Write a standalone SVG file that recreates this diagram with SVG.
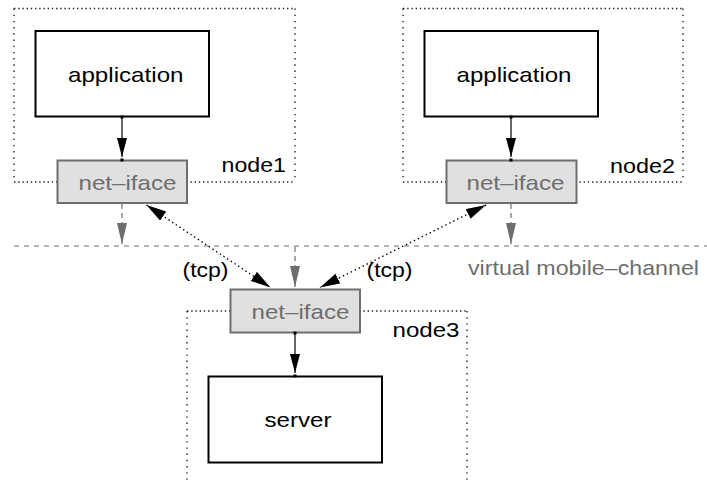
<svg xmlns="http://www.w3.org/2000/svg" width="707" height="483" viewBox="0 0 707 483">
  <style>
    text { font-family: "Liberation Sans", Arial, Helvetica, sans-serif; font-size: 21px; }
    .lbl { fill: #000; }
    .glbl { fill: #6e6e6e; }
    .box { fill: #fff; stroke: #000; stroke-width: 2; }
    .iface { fill: #e0e0e0; stroke: #6e6e6e; stroke-width: 2; }
    .hdot { fill: none; stroke: #222; stroke-width: 1.4; stroke-dasharray: 1.4 2.8; }
    .vdot { fill: none; stroke: #222; stroke-width: 1.4; stroke-dasharray: 1.4 4.8; }
    .flow { stroke: #000; stroke-width: 1.2; fill: none; }
    .gflow { stroke: #6e6e6e; stroke-width: 1.2; fill: none; stroke-dasharray: 5 4; }
    .tcp { stroke: #000; stroke-width: 1.4; fill: none; stroke-dasharray: 1.4 3; }
    .chan { stroke: #6e6e6e; stroke-width: 1.2; fill: none; stroke-dasharray: 5 5; }
  </style>
  <defs>
    <marker id="blk" markerUnits="userSpaceOnUse" markerWidth="20" markerHeight="11" refX="19" refY="5" orient="auto">
      <path d="M0,0 L19,5 L0,10 z" fill="#000"/>
    </marker>
    <marker id="gry" markerUnits="userSpaceOnUse" markerWidth="22" markerHeight="11" refX="21" refY="5" orient="auto">
      <path d="M0,0 L21,5 L0,10 z" fill="#6e6e6e"/>
    </marker>
    <marker id="tcpHead" markerUnits="userSpaceOnUse" markerWidth="21" markerHeight="12" refX="20" refY="5.5" orient="auto-start-reverse">
      <path d="M0,0 L20,5.5 L0,11 z" fill="#000"/>
    </marker>
  </defs>

  <!-- virtual mobile channel -->
  <g id="channel">
    <line class="chan" x1="14" y1="246" x2="707" y2="246"/>
    <text class="glbl" x="468" y="274.5" textLength="231" lengthAdjust="spacingAndGlyphs">virtual mobile–channel</text>
  </g>

  <!-- host containers -->
  <g id="node1">
    <path class="hdot" d="M14,8.5 H295 M14,182 H295"/>
    <path class="vdot" d="M14,8.5 V182 M295,8.5 V182"/>
    <text class="lbl" x="221.5" y="172" textLength="64.5" lengthAdjust="spacingAndGlyphs">node1</text>
  </g>
  <g id="node2">
    <path class="hdot" d="M403,8.5 H683 M403,182 H683"/>
    <path class="vdot" d="M403,8.5 V182 M683,8.5 V182"/>
    <text class="lbl" x="610" y="173" textLength="65" lengthAdjust="spacingAndGlyphs">node2</text>
  </g>
  <g id="node3">
    <path class="hdot" d="M187,311 H467"/>
    <path class="vdot" d="M187,311 V483 M467,311 V483"/>
    <text class="lbl" x="392.5" y="337" textLength="67" lengthAdjust="spacingAndGlyphs">node3</text>
  </g>

  <!-- components -->
  <g id="app1">
    <rect class="box" x="35.5" y="31" width="173.5" height="85.5"/>
    <text class="lbl" x="68" y="82" textLength="115.5" lengthAdjust="spacingAndGlyphs">application</text>
  </g>
  <g id="app2">
    <rect class="box" x="424.5" y="31" width="173.5" height="85.5"/>
    <text class="lbl" x="456.5" y="82" textLength="115" lengthAdjust="spacingAndGlyphs">application</text>
  </g>
  <g id="iface1">
    <rect class="iface" x="57.5" y="160.5" width="129.5" height="42.5"/>
    <text class="glbl" x="78.5" y="190" textLength="98" lengthAdjust="spacingAndGlyphs">net–iface</text>
  </g>
  <g id="iface2">
    <rect class="iface" x="446.5" y="160.5" width="130" height="42.5"/>
    <text class="glbl" x="466.5" y="190" textLength="98" lengthAdjust="spacingAndGlyphs">net–iface</text>
  </g>
  <g id="iface3">
    <rect class="iface" x="230.5" y="289.5" width="129.5" height="43"/>
    <text class="glbl" x="251.5" y="318.5" textLength="98" lengthAdjust="spacingAndGlyphs">net–iface</text>
  </g>
  <g id="server">
    <rect class="box" x="208.5" y="376.5" width="173.5" height="86"/>
    <text class="lbl" x="264.5" y="427" textLength="67" lengthAdjust="spacingAndGlyphs">server</text>
  </g>

  <!-- connectors -->
  <g id="connectors">
    <!-- application to interface -->
    <line class="flow" x1="122" y1="117" x2="122" y2="157" marker-end="url(#blk)"/>
    <rect x="120.5" y="115.5" width="3" height="3"/>
    <rect x="120.5" y="158.5" width="3" height="3"/>
    <line class="flow" x1="511" y1="117" x2="511" y2="157" marker-end="url(#blk)"/>
    <rect x="509.5" y="115.5" width="3" height="3"/>
    <rect x="509.5" y="158.5" width="3" height="3"/>
    <!-- interface to server -->
    <line class="flow" x1="295" y1="333" x2="295" y2="373" marker-end="url(#blk)"/>
    <rect x="293.5" y="331.5" width="3" height="3"/>
    <rect x="293.5" y="374.5" width="3" height="3"/>

    <!-- interfaces onto the channel -->
    <line class="gflow" x1="122" y1="204" x2="122" y2="244" marker-end="url(#gry)"/>
    <line class="gflow" x1="511" y1="204" x2="511" y2="244" marker-end="url(#gry)"/>
    <line class="gflow" x1="295" y1="247" x2="295" y2="287" marker-end="url(#gry)"/>

    <!-- tcp links -->
    <line class="tcp" x1="146.5" y1="205" x2="270.5" y2="287.5" marker-start="url(#tcpHead)" marker-end="url(#tcpHead)"/>
    <line class="tcp" x1="486" y1="205" x2="320" y2="287.5" marker-start="url(#tcpHead)" marker-end="url(#tcpHead)"/>
    <text class="lbl" x="182.5" y="277" textLength="46" lengthAdjust="spacingAndGlyphs">(tcp)</text>
    <text class="lbl" x="366.5" y="277" textLength="46" lengthAdjust="spacingAndGlyphs">(tcp)</text>
  </g>
</svg>
